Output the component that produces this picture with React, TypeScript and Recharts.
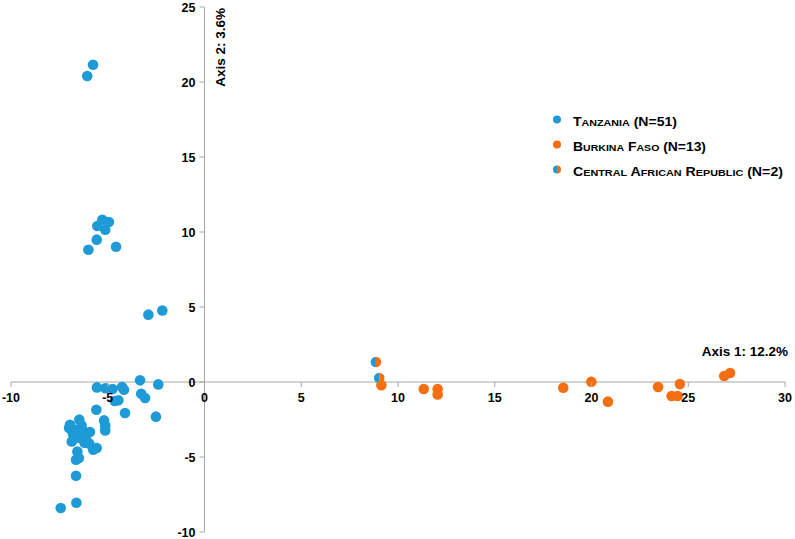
import React from "react";
import { ScatterChart, Scatter, XAxis, YAxis, ReferenceLine } from "recharts";

// Tanzania points (axis 1, axis 2)
const tanzaniaX = [
  -5.76, -6.06, -5.28, -4.94, -5.54, -5.13, -5.57, -6.0, -4.57, -2.9, -2.18,
  -3.33, -2.39, -5.56, -5.13, -4.75, -4.26, -4.16, -4.64, -4.45, -3.27, -3.07,
  -4.11, -2.51, -5.59, -5.19, -5.13, -5.13, -6.95, -6.47, -7.0, -6.6, -6.26,
  -5.92, -6.86, -6.43, -6.26, -5.95, -5.75, -5.57, -6.57, -6.64, -6.49, -6.64,
  -7.43, -6.62, -6.8, -6.35, -6.1, -6.7, -6.2,
];
const tanzaniaY = [
  21.15, 20.4, 10.82, 10.67, 10.4, 10.15, 9.49, 8.82, 9.02, 4.49, 4.77,
  0.11, -0.16, -0.36, -0.42, -0.47, -0.33, -0.51, -1.27, -1.22, -0.78, -1.07,
  -2.07, -2.31, -1.85, -2.56, -3.23, -2.9, -2.85, -2.51, -3.07, -3.18, -3.29,
  -3.33, -3.96, -3.73, -3.58, -4.11, -4.51, -4.4, -4.63, -5.18, -5.07, -6.25,
  -8.4, -8.05, -3.45, -2.9, -3.9, -3.75, -4.05,
];

const burkinaX = [9.14, 11.33, 12.05, 12.05, 18.54, 19.99, 20.85, 23.44, 24.57, 24.14, 24.45, 26.86, 27.16];
const burkinaY = [-0.22, -0.47, -0.47, -0.83, -0.38, 0.02, -1.31, -0.33, -0.14, -0.93, -0.93, 0.4, 0.6];

const carX = [8.86, 9.03];
const carY = [1.33, 0.27];

const xTicks = [-10, -5, 0, 5, 10, 15, 20, 25, 30];
const yTicks = [-10, -5, 0, 5, 10, 15, 20, 25];

const legendNames = ["Tanzania (N=51)", "Burkina Faso (N=13)", "Central African Republic (N=2)"];

const BLUE = "#1E9BD7";
const ORANGE = "#F56E12";
const AXIS = "#A6A6A6";
const FONT = "'Liberation Sans', Arial, sans-serif";

const W = 795;
const H = 539;
const M = { top: 7, right: 10, bottom: 6, left: 10 };
const AX = 1; // thickness reserved for the (invisible) recharts axes
const X_DOMAIN: [number, number] = [-10, 30];
const Y_DOMAIN: [number, number] = [-10, 25];
const R = 5.3;

const zip = (xs: number[], ys: number[]) => xs.map((x, i) => ({ x, y: ys[i] }));

const tanzania = zip(tanzaniaX, tanzaniaY);
const burkina = zip(burkinaX, burkinaY);
const car = zip(carX, carY);

// where the axes cross (value 0) inside the plot area
const plotLeft = M.left + AX;
const plotW = W - plotLeft - M.right;
const plotH = H - M.top - M.bottom - AX;
const zeroX = plotLeft + (plotW * (0 - X_DOMAIN[0])) / (X_DOMAIN[1] - X_DOMAIN[0]);
const zeroY = M.top + (plotH * (Y_DOMAIN[1] - 0)) / (Y_DOMAIN[1] - Y_DOMAIN[0]);

const XTick = (props: any) => {
  const { x, payload } = props;
  return (
    <g>
      <line x1={x} x2={x} y1={zeroY} y2={zeroY + 5} stroke={AXIS} />
      <text x={x} y={zeroY + 19.5} textAnchor="middle" fontSize={12.5} fontWeight="bold" fill="#000" fontFamily={FONT}>
        {payload.value}
      </text>
    </g>
  );
};

const YTick = (props: any) => {
  const { y, payload } = props;
  return (
    <g>
      <line x1={zeroX - 5} x2={zeroX} y1={y} y2={y} stroke={AXIS} />
      <text x={zeroX - 9} y={y + 4.5} textAnchor="end" fontSize={12.5} fontWeight="bold" fill="#000" fontFamily={FONT}>
        {payload.value}
      </text>
    </g>
  );
};

const Dot = (color: string) => (props: any) => <circle cx={props.cx} cy={props.cy} r={R} fill={color} />;

const HalfDot = (props: any) => {
  const { cx, cy } = props;
  return (
    <g>
      <path d={`M${cx},${cy - R} A${R},${R} 0 0 0 ${cx},${cy + R} Z`} fill={BLUE} />
      <path d={`M${cx},${cy - R} A${R},${R} 0 0 1 ${cx},${cy + R} Z`} fill={ORANGE} />
    </g>
  );
};

// small caps the way the original renders them: wide, short capitals
const SmallCaps = ({ text }: { text: string }) => {
  const parts: React.ReactNode[] = [];
  text.split(" ").forEach((word, i) => {
    if (i > 0) parts.push(<tspan key={`s${i}`}> </tspan>);
    const first = word[0];
    const rest = word.slice(1);
    if (/[a-z]/.test(rest)) {
      parts.push(<tspan key={`f${i}`}>{first}</tspan>);
      parts.push(
        <tspan key={`r${i}`} fontSize={9.6}>
          {rest.toUpperCase()}
        </tspan>
      );
    } else {
      parts.push(<tspan key={`f${i}`}>{word}</tspan>);
    }
  });
  return <>{parts}</>;
};

const legendColors = [
  [BLUE, BLUE],
  [ORANGE, ORANGE],
  [BLUE, ORANGE],
];
const legendWidths = [104, 133, 210];

const LegendBox = () => (
  <svg width={W} height={H} style={{ position: "absolute", left: 0, top: 0, pointerEvents: "none" }}>
    {legendNames.map((name, i) => {
      const base = 125.5 + i * 25;
      const cy = base - 6;
      const r = 4;
      return (
        <g key={name}>
          <path d={`M557,${cy - r} A${r},${r} 0 0 0 557,${cy + r} Z`} fill={legendColors[i][0]} />
          <path d={`M557,${cy - r} A${r},${r} 0 0 1 557,${cy + r} Z`} fill={legendColors[i][1]} />
          <text
            x={573}
            y={base}
            fontSize={12.6}
            fontWeight="bold"
            fill="#000"
            fontFamily={FONT}
            textLength={legendWidths[i]}
            lengthAdjust="spacingAndGlyphs"
          >
            <SmallCaps text={name} />
          </text>
        </g>
      );
    })}
  </svg>
);

export default function App() {
  return (
    <div style={{ position: "absolute", left: 0, top: 0, width: W, height: H, background: "#fff", fontFamily: FONT }}>
      <ScatterChart width={W} height={H} margin={M}>
        <XAxis
          type="number"
          dataKey="x"
          domain={X_DOMAIN}
          ticks={xTicks}
          interval={0}
          height={AX}
          axisLine={false}
          tickLine={false}
          tick={<XTick />}
        />
        <YAxis
          type="number"
          dataKey="y"
          domain={Y_DOMAIN}
          ticks={yTicks}
          interval={0}
          width={AX}
          axisLine={false}
          tickLine={false}
          tick={<YTick />}
        />
        <ReferenceLine
          x={0}
          stroke={AXIS}
          label={(p: any) => (
            <text
              transform={`translate(${p.viewBox.x + 20.5},${p.viewBox.y + 1}) rotate(-90)`}
              textAnchor="end"
              fontSize={13.5}
              fontWeight="bold"
              fill="#000"
              fontFamily={FONT}
            >
              Axis 2: 3.6%
            </text>
          )}
        />
        <ReferenceLine
          y={0}
          stroke={AXIS}
          label={(p: any) => (
            <text
              x={p.viewBox.x + p.viewBox.width + 3}
              y={p.viewBox.y - 26}
              textAnchor="end"
              fontSize={13.5}
              fontWeight="bold"
              fill="#000"
              fontFamily={FONT}
            >
              Axis 1: 12.2%
            </text>
          )}
        />
        <Scatter name="Tanzania" data={tanzania} shape={Dot(BLUE)} isAnimationActive={false} />
        <Scatter name="Central African Republic" data={car} shape={HalfDot} isAnimationActive={false} />
        <Scatter name="Burkina Faso" data={burkina} shape={Dot(ORANGE)} isAnimationActive={false} />
      </ScatterChart>
      <LegendBox />
    </div>
  );
}
